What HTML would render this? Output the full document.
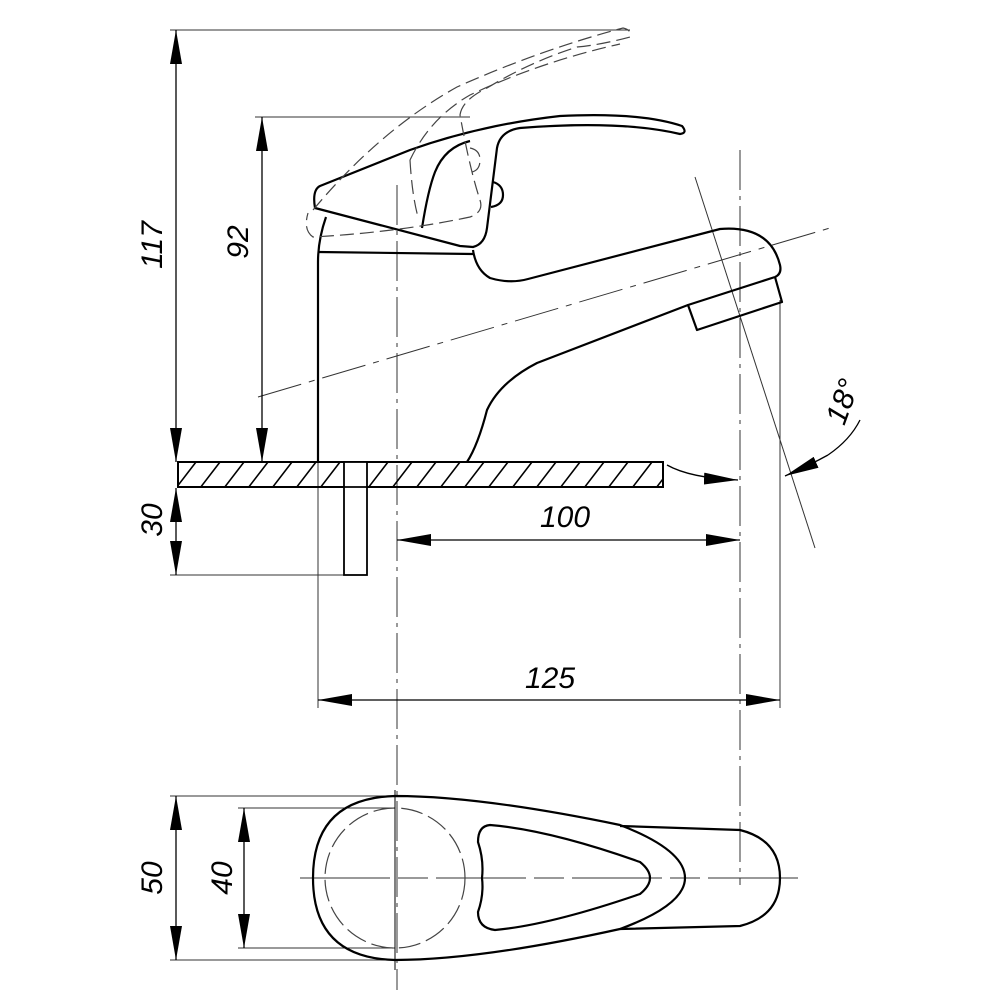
<!DOCTYPE html>
<html><head><meta charset="utf-8"><style>html,body{margin:0;padding:0;background:#fff}svg{display:block}</style></head>
<body>
<svg width="1000" height="1000" viewBox="0 0 1000 1000" xmlns="http://www.w3.org/2000/svg">
<defs>
<marker id="a" viewBox="0 0 34 12" refX="34" refY="6" markerWidth="34" markerHeight="12" orient="auto-start-reverse" markerUnits="userSpaceOnUse"><path d="M0,0 L34,6 L0,12 z" fill="#000"/></marker>
<pattern id="h" width="24" height="26" patternUnits="userSpaceOnUse" x="8" y="462"><line x1="0" y1="26" x2="20" y2="0" stroke="#000" stroke-width="1.6"/></pattern>
</defs>
<g fill="none" stroke="#000">
<g stroke-width="1" stroke="#333">
<line x1="170" y1="30" x2="630" y2="30"/>
<line x1="255" y1="117" x2="470" y2="117"/>
<line x1="170" y1="575" x2="344" y2="575"/>
<line x1="318" y1="462" x2="318" y2="708"/>
<line x1="780" y1="300" x2="780" y2="708"/>
<line x1="170" y1="796" x2="395" y2="796"/>
<line x1="170" y1="960" x2="395" y2="960"/>
<line x1="238" y1="808" x2="395" y2="808"/>
<line x1="238" y1="948" x2="395" y2="948"/>
<line x1="397" y1="185" x2="397" y2="990" stroke-dasharray="40,6,4,6"/>
<line x1="740" y1="150" x2="740" y2="885" stroke-dasharray="40,6,4,6"/>
<line x1="258" y1="397" x2="830" y2="228" stroke-dasharray="45,8,6,8"/>
<line x1="300" y1="878" x2="800" y2="878" stroke-dasharray="90,8,30,8"/>
<line x1="695" y1="177" x2="815" y2="548"/>
</g>
<g stroke-width="1.3">
<line x1="176" y1="30" x2="176" y2="462" marker-start="url(#a)" marker-end="url(#a)"/>
<line x1="262" y1="117" x2="262" y2="462" marker-start="url(#a)" marker-end="url(#a)"/>
<line x1="176" y1="488" x2="176" y2="575" marker-start="url(#a)" marker-end="url(#a)"/>
<line x1="397" y1="540" x2="740" y2="540" marker-start="url(#a)" marker-end="url(#a)"/>
<line x1="318" y1="700" x2="780" y2="700" marker-start="url(#a)" marker-end="url(#a)"/>
<line x1="176" y1="796" x2="176" y2="960" marker-start="url(#a)" marker-end="url(#a)"/>
<line x1="244" y1="808" x2="244" y2="948" marker-start="url(#a)" marker-end="url(#a)"/>
<path d="M667,465 Q690,478 738,480" marker-end="url(#a)"/>
<path d="M785,476 Q810,465 828,455" marker-start="url(#a)"/>
<path d="M828,455 Q850,440 860,420"/>
</g>
<rect x="178" y="462" width="485" height="25" fill="url(#h)" stroke-width="2"/>
<rect x="344" y="462" width="23" height="113" fill="#fff" stroke-width="1.8"/>
<line x1="344" y1="487" x2="367" y2="487" stroke-width="1.8"/>
<g stroke-width="2.2" stroke-linejoin="round">
<path d="M318,462 L318,262 Q318,240 326,217"/>
<line x1="318" y1="252" x2="473" y2="254"/>
<path d="M315,208 Q312,190 320,186 L410,150 Q480,125 560,116 Q640,112 682,126 Q688,133 680,134 Q620,120 520,128 Q500,131 497,148 L487,228 Q485,244 473,247 L460,246 Z"/>
<path d="M422,228 Q428,190 435,172 Q445,147 470,141"/>
<path d="M493,182 Q503,185 503,195 Q503,205 491,207"/>
<path d="M473,250 Q476,270 490,278 Q510,284 528,279 L720,229 Q770,225 780,265 Q782,274 775,277"/>
<path d="M775,277 L782,302 L697,330 L688,305 L775,277"/>
<path d="M688,305 L537,363 Q500,382 487,410 Q478,445 467,462"/>
</g>
<g stroke-width="1.2" stroke="#444" stroke-dasharray="14,6">
<path d="M313,210 Q380,130 457,87 Q540,50 623,28 Q632,30 630,37 Q600,45 577,47 Q530,62 487,88 Q462,100 460,115 Q470,170 480,200 Q484,212 470,217 Q400,232 313,237 Q303,230 308,213"/>
<path d="M410,160 Q430,118 470,95 Q540,62 620,44"/>
<path d="M410,160 Q412,195 418,217"/>
<path d="M470,148 Q480,150 480,160 Q480,170 472,172"/>
</g>
<g stroke-width="2.2">
<path d="M395,796 Q480,796 620,825 Q685,850 685,878 Q685,905 620,929 Q480,960 395,960 Q313,958 313,878 Q313,798 395,796 Z"/>
<path d="M620,826 L740,830 Q780,840 780,878 Q780,916 740,926 L620,929"/>
<path d="M490,825 Q550,830 640,862 Q660,878 640,894 Q550,925 495,930 Q478,928 478,912 Q484,895 482,878 Q484,860 478,842 Q478,826 490,825 Z"/>
</g>
<circle cx="395" cy="878" r="70" stroke-width="1.2" stroke="#444" stroke-dasharray="22,6"/>
<line x1="395" y1="790" x2="395" y2="970" stroke-width="1"/>
</g>
<g font-family="Liberation Sans, sans-serif" font-size="30" font-style="italic" fill="#000">
<text transform="translate(162,245) rotate(-90)" text-anchor="middle">117</text>
<text transform="translate(248,242) rotate(-90)" text-anchor="middle">92</text>
<text transform="translate(162,520) rotate(-90)" text-anchor="middle">30</text>
<text transform="translate(162,878) rotate(-90)" text-anchor="middle">50</text>
<text transform="translate(232,878) rotate(-90)" text-anchor="middle">40</text>
<text x="565" y="527" text-anchor="middle">100</text>
<text x="550" y="688" text-anchor="middle">125</text>
<text transform="translate(852,405) rotate(-70)" text-anchor="middle">18°</text>
</g>
</svg>
</body></html>
